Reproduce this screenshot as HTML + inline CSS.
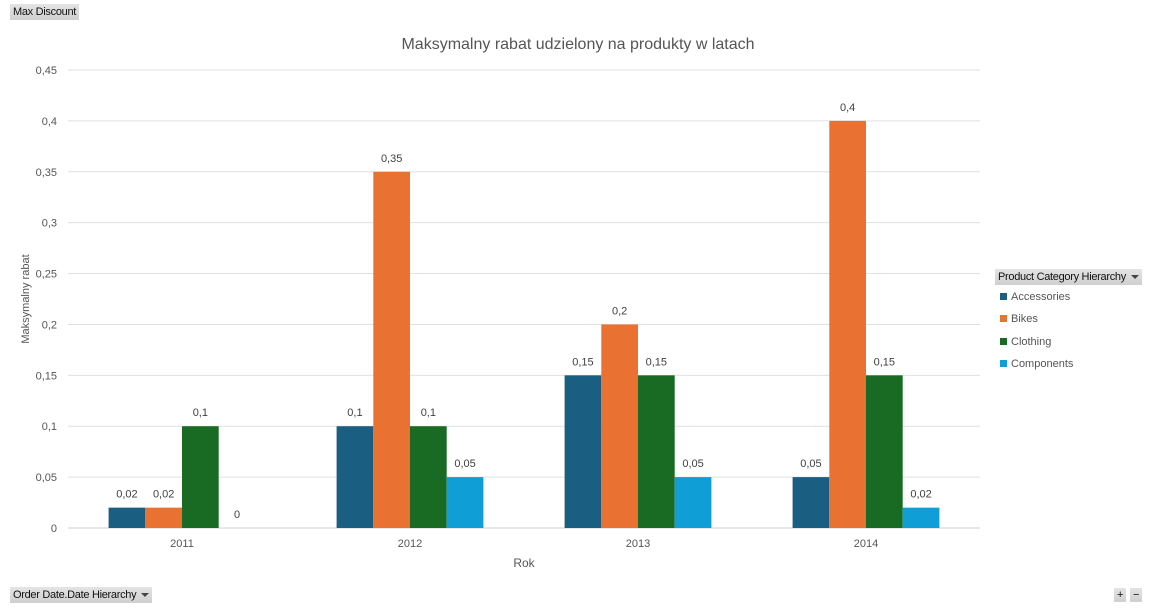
<!DOCTYPE html>
<html><head><meta charset="utf-8"><style>
body{margin:0;width:1157px;height:613px;background:#fff;font-family:"Liberation Sans",sans-serif;position:relative;overflow:hidden}
.btn{position:absolute;background:linear-gradient(#e4e4e4,#cfcfcf);font-size:11px;color:#111;line-height:16px;padding:0 3px;white-space:nowrap;letter-spacing:-0.3px}
.tri{display:inline-block;width:0;height:0;border-left:4px solid transparent;border-right:4px solid transparent;border-top:4px solid #444;margin-left:5px;vertical-align:middle}
.leg{position:absolute;left:1000px;font-size:11px;color:#555}
.sw{display:inline-block;width:7px;height:7px;margin-right:4px}
</style></head><body>
<div class="btn" style="left:10px;top:4px">Max Discount</div>
<div class="btn" style="left:10px;top:587px">Order Date.Date Hierarchy<span class="tri"></span></div>
<div class="btn" style="left:995px;top:269px">Product Category Hierarchy<span class="tri"></span></div>
<div class="btn" style="left:1114px;top:588px;padding:0 3px;line-height:14px">+</div>
<div class="btn" style="left:1130px;top:588px;padding:0 3px;line-height:14px">−</div>
<div class="leg" style="top:291px"><span class="sw" style="background:#1a5e82"></span>Accessories</div>
<div class="leg" style="top:313px"><span class="sw" style="background:#e97132"></span>Bikes</div>
<div class="leg" style="top:336px"><span class="sw" style="background:#196b24"></span>Clothing</div>
<div class="leg" style="top:358px"><span class="sw" style="background:#0f9ed5"></span>Components</div>
<svg id="chart" width="1157" height="613" style="position:absolute;left:0;top:0;pointer-events:none" font-family="Liberation Sans, sans-serif">
<text x="578" y="49" text-anchor="middle" font-size="16" fill="#555">Maksymalny rabat udzielony na produkty w latach</text>
<text x="524" y="567" text-anchor="middle" font-size="12" fill="#555">Rok</text>
<text transform="translate(29,299) rotate(-90)" text-anchor="middle" font-size="11" fill="#555">Maksymalny rabat</text>
<g id="g"></g>
</svg>
<script>
const categories=["2011","2012","2013","2014"];
const seriesNames=["Accessories","Bikes","Clothing","Components"];
const colors=["#1a5e82","#e97132","#196b24","#0f9ed5"];
const accessories=[0.02,0.1,0.15,0.05];
const bikes=[0.02,0.35,0.2,0.4];
const clothing=[0.1,0.1,0.15,0.15];
const components=[0,0.05,0.05,0.02];
const yTicks=[0,0.05,0.1,0.15,0.2,0.25,0.3,0.35,0.4,0.45];
const series=[accessories,bikes,clothing,components];
const x0=68,x1=980,yBase=528,yTop=70,yMax=0.45;
const y=v=>yBase-(v/yMax)*(yBase-yTop);
const catW=(x1-x0)/categories.length;
const barW=36.7;
const fmt=v=>String(v).replace('.',',');
const g=document.getElementById('g');
const ns="http://www.w3.org/2000/svg";
function mk(t,a){const e=document.createElementNS(ns,t);for(const k in a)e.setAttribute(k,a[k]);g.appendChild(e);return e;}
yTicks.forEach(t=>{
 const l=mk('line',{x1:x0,x2:x1,y1:y(t),y2:y(t),stroke:t===0?'#d0d0d0':'#e0e0e0','stroke-width':1});
 
 
 const tx=mk('text',{x:57,y:y(t)+4,'text-anchor':'end','font-size':11,fill:'#555'});
 tx.textContent=fmt(t);
 
 
});
categories.forEach((c,i)=>{
 const cx=x0+catW*(i+0.5);
 const tx=mk('text',{x:cx,y:547,'text-anchor':'middle','font-size':11,fill:'#555'});
 tx.textContent=c;
 
 
 series.forEach((s,j)=>{
  const bx=cx-2*barW+j*barW;
  const v=s[i];
  const r=mk('rect',{x:bx,y:y(v),width:barW,height:yBase-y(v),fill:colors[j]});
  
  
  const lb=mk('text',{x:bx+barW/2,y:y(v)-10,'text-anchor':'middle','font-size':11,fill:'#404040'});
  lb.textContent=fmt(v);
  
  
 });
});
</script>
</body></html>
